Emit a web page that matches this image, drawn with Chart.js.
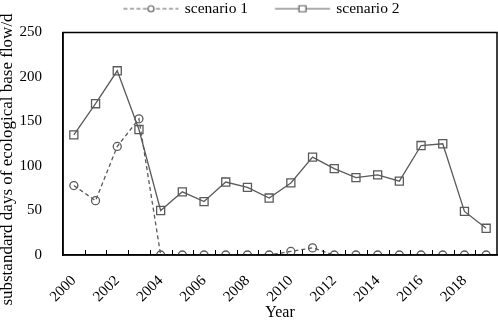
<!DOCTYPE html>
<html><head><meta charset="utf-8">
<script src="https://cdn.jsdelivr.net/npm/chart.js@4"></script>
<style>html,body{margin:0;padding:0;background:#fff}#w{width:498px;height:321px}</style>
</head><body><div id="w"><canvas id="c"></canvas></div>
<script>
const years = ["2000","2001","2002","2003","2004","2005","2006","2007","2008","2009","2010","2011","2012","2013","2014","2015","2016","2017","2018","2019"];
const scenario1 = [78,61,122,153,0,0,0,0,0,0,4,8,0,0,0,0,0,0,0,0];
const scenario2 = [135,170,207,141,50,71,60,82,76,64,81,110,97,87,90,83,123,125,49,30];
const yTicks = [0,50,100,150,200,250];
const yTitle = 'substandard days of ecological base flow/d';

const COL = '#5a5a5a';
const FONT = "'Liberation Serif', 'Times New Roman', serif";

// legend icon geometry
const LB = 79.5, LC = 84, LINE0 = 28.25, LINE1 = 83.25;
function legendIcon(dashed, shape){
  const cv = document.createElement('canvas');
  cv.width = LC; cv.height = 12;
  const g = cv.getContext('2d');
  g.strokeStyle = COL; g.lineWidth = 1.2;
  if (dashed) g.setLineDash([4,2.5]);
  g.beginPath(); g.moveTo(LINE0,6); g.lineTo(LINE1,6); g.stroke();
  g.setLineDash([]);
  g.fillStyle = '#fff';
  const cx = (LINE0+LINE1)/2;
  g.beginPath();
  if (shape === 'circle') { g.arc(cx,6,3,0,Math.PI*2); }
  else { g.rect(cx-3.5,3,7,6); }
  g.fill(); g.stroke();
  return cv;
}

const frame = {
  id:'frame',
  afterDraw(chart){
    const {ctx, chartArea:a, scales:{x}} = chart;
    ctx.save();
    ctx.strokeStyle = '#000'; ctx.lineWidth = 1.5;
    ctx.strokeRect(a.left, a.top, a.right-a.left, a.bottom-a.top);
    ctx.lineWidth = 1;
    const n = years.length;
    const step = (x.right - x.left)/n;
    for (let i=1;i<n;i++){
      const px = Math.round(x.left + i*step)+0.5;
      ctx.beginPath(); ctx.moveTo(px, a.bottom); ctx.lineTo(px, a.bottom-5); ctx.stroke();
    }
    ctx.translate(8, 159.5);
    ctx.rotate(-Math.PI/2);
    ctx.fillStyle = '#000';
    ctx.font = '17px ' + FONT;
    ctx.textAlign = 'center'; ctx.textBaseline = 'middle';
    ctx.fillText(yTitle, 0, 0);
    ctx.restore();
  }
};

new Chart(document.getElementById('c'), {
  type:'line',
  data:{
    labels: years,
    datasets:[
      {label:'scenario 1', data:scenario1, borderColor:COL, borderWidth:1.3, borderDash:[4,3],
       pointStyle:'circle', pointRadius:4, pointBorderWidth:1.3, pointBackgroundColor:'rgba(255,255,255,0)', pointBorderColor:COL, tension:0},
      {label:'scenario 2', data:scenario2, borderColor:COL, borderWidth:1.3,
       pointStyle:'rect', pointRadius:5.7, pointBorderWidth:1.3, pointBackgroundColor:'rgba(255,255,255,0)', pointBorderColor:COL, tension:0}
    ]
  },
  options:{
    responsive:true, maintainAspectRatio:false, animation:false,
    layout:{autoPadding:false, padding:{left:0,right:1,top:0,bottom:0}},
    plugins:{
      legend:{
        position:'top',
        labels:{
          font:{family:FONT,size:15.5}, color:'#000', usePointStyle:true, pointStyleWidth:LB, padding:1, boxHeight:12,
          generateLabels(){
            return [
              {text:'scenario 1', pointStyle:legendIcon(true,'circle'), datasetIndex:0, lineWidth:0, strokeStyle:'rgba(0,0,0,0)', fillStyle:'rgba(0,0,0,0)', fontColor:'#000'},
              {text:'scenario 2', pointStyle:legendIcon(false,'rect'), datasetIndex:1, lineWidth:0, strokeStyle:'rgba(0,0,0,0)', fillStyle:'rgba(0,0,0,0)', fontColor:'#000'}
            ];
          }
        }
      },
      tooltip:{enabled:false}
    },
    scales:{
      x:{
        type:'category', offset:true,
        grid:{display:false, offset:true},
        border:{display:true,color:'#000',width:1.5},
        afterFit(s){ s.height = 66; s.paddingLeft = 0; s.paddingRight = 0; },
        ticks:{font:{family:FONT,size:15}, color:'#000', autoSkip:false, maxRotation:45, minRotation:45, padding:9,
          callback(v,i){ return i%2===0 ? years[i] : ''; }},
        title:{display:true, text:'Year', font:{family:FONT,size:16,lineHeight:1}, color:'#000', padding:{top:0,bottom:0}}
      },
      xTop:{
        type:'category', position:'top', offset:true,
        grid:{display:false, drawTicks:false},
        border:{display:false},
        ticks:{display:false},
        afterFit(s){ s.height = 6; s.paddingLeft = 0; s.paddingRight = 0; }
      },
      y:{
        min:0, max:250,
        afterBuildTicks(s){ s.ticks = yTicks.map(v=>({value:v})); },
        afterFit(s){ s.width = 63; s.paddingTop = 0; s.paddingBottom = 0; },
        grid:{display:false},
        border:{display:true,color:'#000',width:1.5},
        ticks:{font:{family:FONT,size:15}, color:'#000', padding:13}
      }
    }
  },
  plugins:[frame]
});
</script></body></html>
